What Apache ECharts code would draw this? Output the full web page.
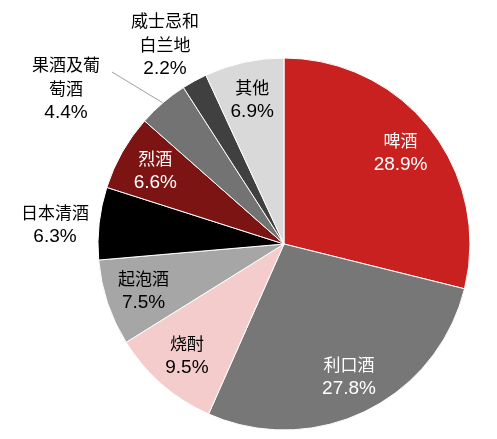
<!DOCTYPE html>
<html>
<head>
<meta charset="utf-8">
<style>
html,body{margin:0;padding:0;background:#fff;}
#chart{width:497px;height:439px;}
</style>
<script src="https://cdn.jsdelivr.net/npm/echarts@6/dist/echarts.min.js"></script>
</head>
<body>
<div id="chart"></div>
<script>
// Data
const categories = ['啤酒', '利口酒', '烧酎', '起泡酒', '日本清酒', '烈酒', '果酒及葡萄酒', '威士忌和白兰地', '其他'];
const labelNames = ['啤酒', '利口酒', '烧酎', '起泡酒', '日本清酒', '烈酒', '果酒及葡\n萄酒', '威士忌和\n白兰地', '其他'];
const shares = [28.9, 27.8, 9.5, 7.5, 6.3, 6.6, 4.4, 2.2, 6.9];

// Styles
const colors = ['#c8211f', '#777777', '#f5cccc', '#a6a6a6', '#000000', '#7c1414', '#737373', '#404040', '#d9d9d9'];
const textColors = ['#ffffff', '#ffffff', '#000000', '#000000', '#000000', '#ffffff', '#000000', '#000000', '#000000'];
const outsideIdx = [4, 6, 7];
const outsidePos = {4: [55, 225], 6: [66, 89], 7: [165, 45]};
const leaderStart = {6: [112, 72]};

const CENTER = [284, 244];
const R = 186;

function labelText(i) {
  const nameLines = labelNames[i].split('\n').map(s => '{a|' + s + '}').join('\n');
  return nameLines + '\n{b|' + shares[i].toFixed(1) + '%}';
}
function rich(color) {
  return {
    a: {fontFamily: 'Noto Sans CJK SC', fontSize: 17, color: color, lineHeight: 24},
    b: {fontFamily: 'Liberation Sans', fontSize: 19, color: color, lineHeight: 24}
  };
}
function midPoint(i) {
  const total = shares.reduce((a, b) => a + b, 0);
  let before = 0;
  for (let k = 0; k < i; k++) before += shares[k];
  const ang = (before + shares[i] / 2) / total * 2 * Math.PI;
  return [CENTER[0] + R * Math.sin(ang), CENTER[1] - R * Math.cos(ang)];
}

const mainData = categories.map((c, i) => {
  const isOut = outsideIdx.indexOf(i) >= 0;
  return {
    name: c,
    value: shares[i],
    itemStyle: {color: colors[i]},
    label: {
      show: isOut,
      position: 'outside',
      formatter: labelText(i),
      rich: rich(textColors[i]),
      align: 'center'
    },
    labelLine: {
      show: i === 6,
      length: 10,
      length2: 10,
      lineStyle: {color: '#a0a0a0', width: 1}
    }
  };
});

const labelData = categories.map((c, i) => {
  const isOut = outsideIdx.indexOf(i) >= 0;
  return {
    name: c,
    value: shares[i],
    label: {
      show: !isOut,
      formatter: labelText(i),
      rich: rich(textColors[i]),
      align: 'center'
    }
  };
});

const chart = echarts.init(document.getElementById('chart'), null, {renderer: 'canvas'});
chart.setOption({
  backgroundColor: '#ffffff',
  animation: false,
  series: [
    {
      type: 'pie',
      center: CENTER,
      radius: R,
      startAngle: 90,
      clockwise: true,
      silent: true,
      data: mainData,
      itemStyle: {borderColor: '#ffffff', borderWidth: 1},
      labelLayout: function (p) {
        const pos = outsidePos[p.dataIndex];
        if (!pos) return {};
        const res = {x: pos[0], y: pos[1], align: 'center', verticalAlign: 'middle'};
        if (leaderStart[p.dataIndex]) {
          res.labelLinePoints = [leaderStart[p.dataIndex], midPoint(p.dataIndex), midPoint(p.dataIndex)];
        }
        return res;
      }
    },
    {
      type: 'pie',
      center: CENTER,
      radius: [104, R],
      startAngle: 90,
      clockwise: true,
      silent: true,
      data: labelData,
      itemStyle: {color: 'rgba(0,0,0,0)', borderWidth: 0},
      label: {position: 'inside'},
      labelLine: {show: false}
    }
  ]
});
</script>
</body>
</html>
